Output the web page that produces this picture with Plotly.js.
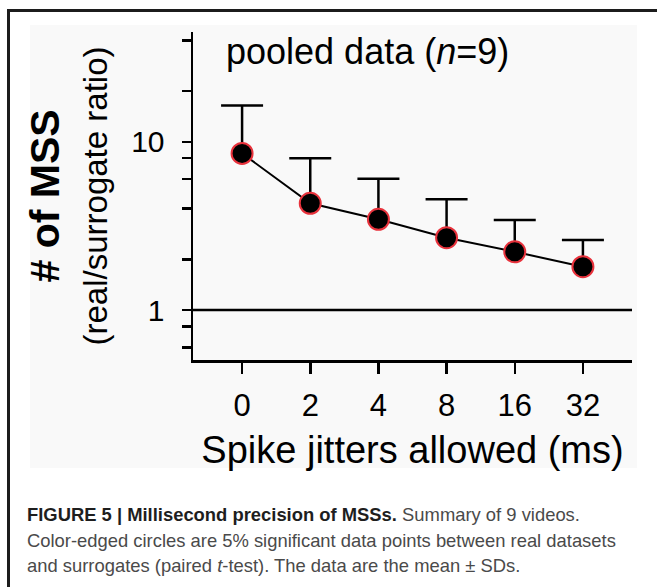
<!DOCTYPE html>
<html>
<head>
<meta charset="utf-8">
<script src="https://cdn.plot.ly/plotly-3.0.1.min.js"></script>
<style>
  html, body { margin: 0; padding: 0; background: #ffffff; }
  #wrap { position: relative; width: 657px; height: 587px; overflow: hidden; }
  #frame { position: absolute; left: 7px; top: 9px; width: 700px; height: 650px;
           border-left: 3px solid #1c1c1c; border-top: 3px solid #1c1c1c; }
  #panel { position: absolute; left: 30px; top: 25px; width: 607px; height: 443px; background: #f9f9f9; }
  #chart { position: absolute; left: 0; top: 0; width: 657px; height: 587px; }
</style>
</head>
<body>
<div id="wrap">
  <div id="frame"></div>
  <div id="panel"></div>
  <div id="chart"></div>
</div>
<script>
// ---- data ----
const jitterLabels = ['0', '2', '4', '8', '16', '32'];
const meanRatio    = [8.53, 4.31, 3.46, 2.69, 2.22, 1.81];
const sdRatio      = [7.87, 3.66, 2.57, 1.86, 1.21, 0.80];
const zeroMinus    = [0, 0, 0, 0, 0, 0];
const refLevel     = 1;
const yTickVals    = [0.6, 0.8, 1, 2, 4, 6, 8, 10, 20, 40];
const yTickText    = ['', '', '1', '', '', '', '', '10', '', ''];

const FONT = '"Liberation Sans", Arial, sans-serif';
const upperSD = meanRatio.map((m, i) => m + sdRatio[i]);

// error-bar stems (drawn first so the markers sit on top)
const stems = {
  type: 'scatter', mode: 'markers',
  x: jitterLabels, y: meanRatio,
  marker: { size: 1, opacity: 0 },
  error_y: { type: 'data', symmetric: false, array: sdRatio, arrayminus: zeroMinus,
             color: '#000000', thickness: 2.5, width: 0 },
  hoverinfo: 'skip', showlegend: false
};
// caps at mean + SD
const caps = {
  type: 'scatter', mode: 'markers',
  x: jitterLabels, y: upperSD,
  marker: { symbol: 'line-ew', size: 30, color: '#000000', line: { color: '#000000', width: 2.5 } },
  hoverinfo: 'skip', showlegend: false
};
const means = {
  type: 'scatter', mode: 'lines+markers',
  x: jitterLabels, y: meanRatio,
  line: { color: '#000000', width: 2 },
  marker: { color: '#000000', size: 21, line: { color: '#e8323c', width: 2 } },
  hoverinfo: 'skip', showlegend: false
};

const L = 193, R = 25, T = 32, B = 227;
const W = 657, H = 587;
const pw = W - L - R, ph = H - T - B;
function px2x(p) { return (p - L) / pw; }
function py2y(p) { return (H - B - p) / ph; }

const CAP_FONT = { family: FONT, size: 18.4, color: '#4a4a4a' };

const layout = {
  width: W, height: H,
  margin: { l: L, r: R, t: T, b: B, pad: 0 },
  paper_bgcolor: 'rgba(0,0,0,0)',
  plot_bgcolor: 'rgba(0,0,0,0)',
  font: { family: FONT, color: '#000000' },
  showlegend: false,
  xaxis: {
    type: 'category',
    range: [-0.72, 5.72],
    showline: true, linecolor: '#000000', linewidth: 2.5,
    ticks: 'outside', ticklen: 11, tickwidth: 2.5, tickcolor: '#000000',
    showgrid: false, zeroline: false,
    tickfont: { family: FONT, size: 31, color: '#000000' },
    ticklabelstandoff: 5,
    title: { text: 'Spike jitters allowed (ms)', font: { family: FONT, size: 38, color: '#000000' }, standoff: 15 },
    automargin: false,
    fixedrange: true
  },
  yaxis: {
    type: 'log',
    range: [Math.log10(0.505), Math.log10(44.9)],
    tickvals: yTickVals, ticktext: yTickText,
    showline: true, linecolor: '#000000', linewidth: 2.5,
    ticks: 'outside', ticklen: 9, tickwidth: 2.5, tickcolor: '#000000',
    showgrid: false, zeroline: false,
    tickfont: { family: FONT, size: 30, color: '#000000' },
    ticklabelstandoff: 11,
    title: {
      text: '<span style="font-size:41px"><b># of MSS</b></span><br><span style="font-size:33px">(real/surrogate ratio)</span>',
      font: { family: FONT, size: 37, color: '#000000' },
      standoff: 12
    },
    automargin: false,
    fixedrange: true
  },
  shapes: [{
    type: 'line', xref: 'paper', x0: 0, x1: 1,
    yref: 'y', y0: refLevel, y1: refLevel,
    line: { color: '#000000', width: 2.5 }, layer: 'below'
  }],
  annotations: [
    {
      xref: 'paper', yref: 'paper',
      x: px2x(224), y: py2y(51), xanchor: 'left', yanchor: 'middle',
      text: 'pooled data (<i>n</i>=9)', showarrow: false,
      font: { family: FONT, size: 36, color: '#000000' }
    },
    {
      xref: 'paper', yref: 'paper', x: px2x(25), y: py2y(514), xanchor: 'left', yanchor: 'middle',
      text: '<b><span style="color:#1e1e1e">FIGURE 5 | Millisecond precision of MSSs.</span></b> Summary of 9 videos.',
      showarrow: false, font: CAP_FONT
    },
    {
      xref: 'paper', yref: 'paper', x: px2x(25), y: py2y(540), xanchor: 'left', yanchor: 'middle',
      text: 'Color-edged circles are 5% significant data points between real datasets',
      showarrow: false, font: CAP_FONT
    },
    {
      xref: 'paper', yref: 'paper', x: px2x(25), y: py2y(565), xanchor: 'left', yanchor: 'middle',
      text: 'and surrogates (paired <i>t</i>-test). The data are the mean ± SDs.',
      showarrow: false, font: CAP_FONT
    }
  ]
};

Plotly.newPlot('chart', [stems, caps, means], layout, { displayModeBar: false, staticPlot: true });
</script>
</body>
</html>
